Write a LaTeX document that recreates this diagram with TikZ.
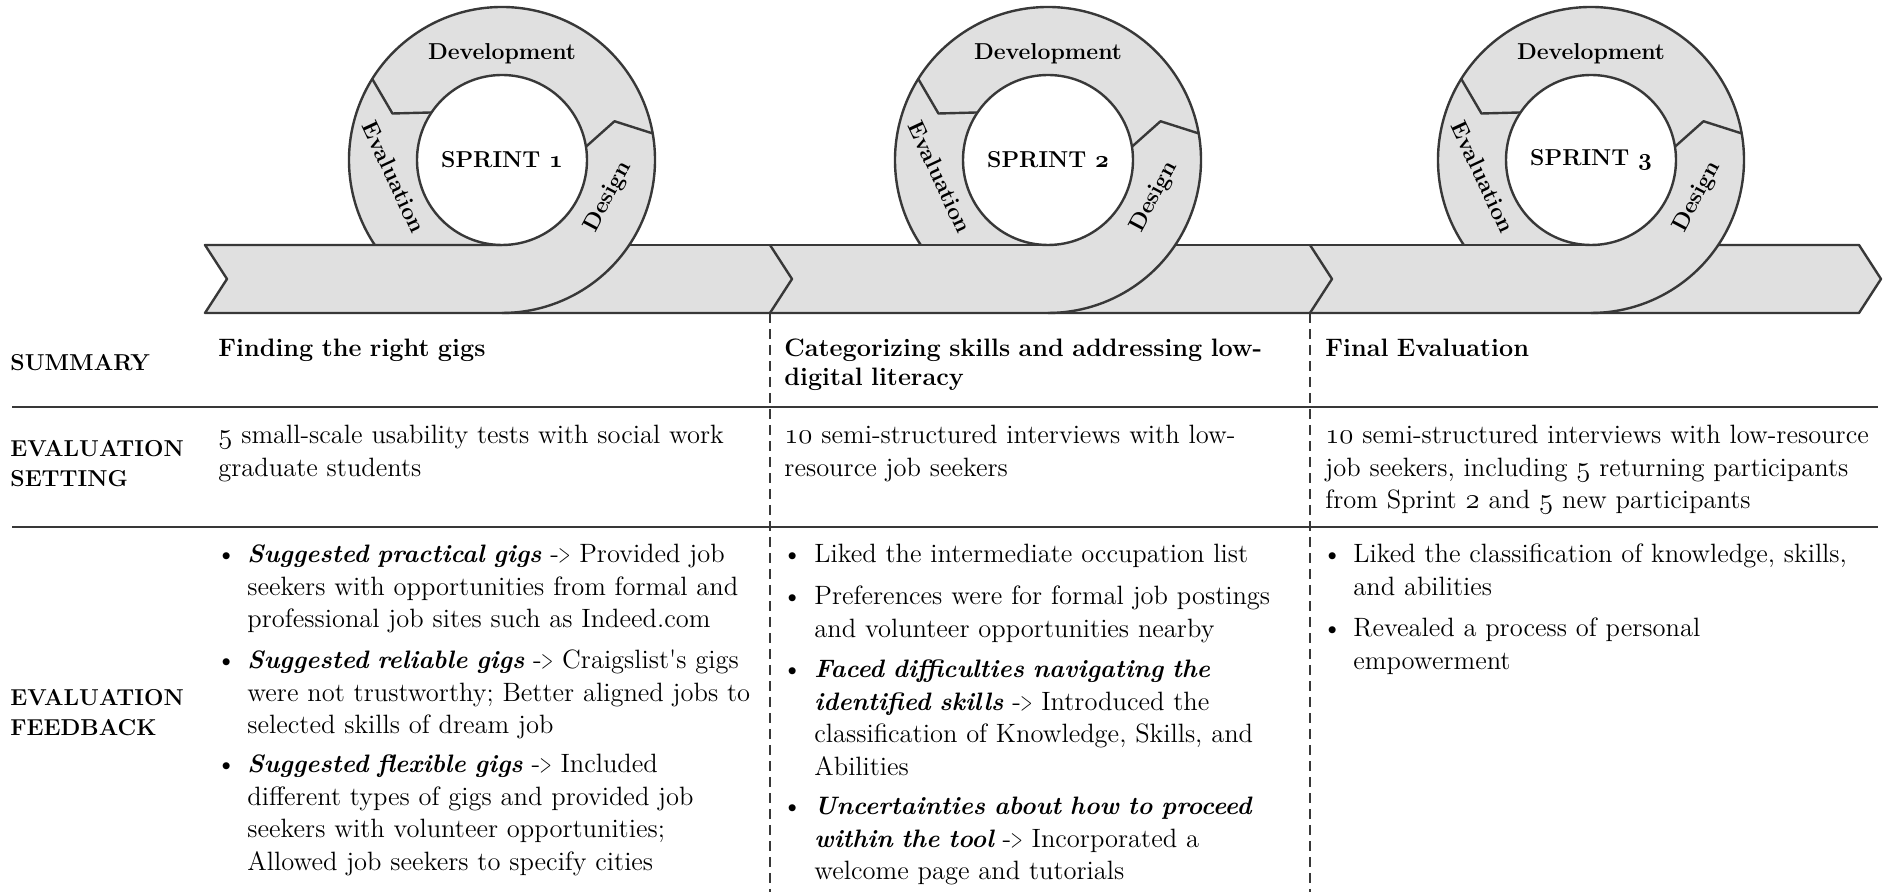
\documentclass[tikz,border=0pt]{standalone}
\usepackage{graphicx}
\usepackage{tikz}
\definecolor{ringfill}{HTML}{E0E0E0}
\definecolor{ringdraw}{HTML}{383838}
\newcommand{\oldnum}[1]{\(\mathnormal{#1}\)}
\newcommand{\bfit}[1]{{\fontsize{12.6}{16.2}\selectfont\bfseries\itshape #1}}
\newcommand{\resarrow}{\mbox{-\kern-0.3pt\scalebox{0.6}[1]{>}}}

\begin{document}
\begin{tikzpicture}[x=0.5pt,y=-0.5pt]
\tikzstyle{outline}=[draw=ringdraw,line width=1.2pt,line join=round]
\tikzstyle{phase}=[inner sep=0pt,font=\fontsize{11.5}{13}\selectfont\bfseries]
\tikzstyle{sprint}=[inner sep=0pt,font=\fontsize{11.5}{13}\selectfont\bfseries]
\tikzstyle{rowlabel}=[anchor=base west,inner sep=0pt,text width=100pt,align=left,font=\fontsize{11.5}{15}\selectfont\bfseries]
\tikzstyle{headtext}=[anchor=base west,inner sep=0pt,text width=330pt,align=left,font=\fontsize{12.6}{14.5}\selectfont\bfseries]
\tikzstyle{bodytext}=[anchor=base west,inner sep=0pt,text width=330pt,align=left,font=\fontsize{13.25}{16.2}\selectfont]
\tikzstyle{bulletdot}=[anchor=base west,inner sep=0pt,font=\fontsize{13}{16.2}\selectfont]
\useasboundingbox (0,0) rectangle (1892,892);

\fill[ringfill] (205,245) -- (1859,245) -- (1881,279) -- (1859,313) -- (205,313) -- (227,279) -- cycle;
\foreach \cx in {502,1048,1591}
  \fill[ringfill] (\cx,160) circle[radius=153];
\draw[outline] (502,245) -- (205,245) -- (227,279) -- (205,313) -- (1859,313) -- (1881,279) -- (1859,245) -- (1718,245);
\draw[outline] (629,245) -- (1048,245);
\draw[outline] (1175,245) -- (1591,245);
\draw[outline] (770,245) -- (792,279) -- (770,313);
\draw[outline] (1310,245) -- (1332,279) -- (1310,313);

\foreach \cx/\n in {502/1,1048/2,1591/3}{
\begin{scope}[shift={(\cx,160)}]
\draw[outline] (146.25:153) arc[start angle=146.25,end angle=450,radius=153];
\draw[outline,fill=white] (0,0) circle[radius=85];
\draw[outline] (212:153) -- (203:119) -- (214:85);
\draw[outline] (350:153) -- (341:119) -- (351:85);
\node[phase] (dev\n) at (0,-106) {Development};
\node[phase,rotate=-65] (eva\n) at (-108,17) {Evaluation};
\node[phase,rotate=62] (des\n) at (106,37) {Design};
\node[sprint] (spr\n) at (0,0) {SPRINT \mbox{\boldmath\oldnum{\n}}};
\end{scope}}

\draw[ringdraw,line width=0.7pt,dash pattern=on 5pt off 3pt] (770,313) -- (770,892);
\draw[ringdraw,line width=0.7pt,dash pattern=on 5pt off 3pt] (1310,313) -- (1310,892);
\draw[ringdraw,line width=1pt] (12,407) -- (1878,407);
\draw[ringdraw,line width=1pt] (12,527) -- (1878,527);

\node[rowlabel] (lsum) at (10,371) {SUMMARY};
\node[rowlabel] (lset) at (10,457) {EVALUATION\\SETTING};
\node[rowlabel] (lfeed) at (10,706) {EVALUATION\\FEEDBACK};

\node[headtext] (sum1) at (218,357) {Finding the right gigs};
\node[headtext] (sum2) at (784,357) {Categorizing skills and addressing low-\\digital literacy};
\node[headtext] (sum3) at (1325,357) {Final Evaluation};

\node[bodytext] (set1) at (218,444) {\oldnum{5} small-scale usability tests with social work\\graduate students};
\node[bodytext] (set2) at (784,444) {\oldnum{10} semi-structured interviews with low-\\resource job seekers};
\node[bodytext] (set3) at (1325,444) {\oldnum{10} semi-structured interviews with low-resource\\job seekers, including \oldnum{5} returning participants\\from Sprint \oldnum{2} and \oldnum{5} new participants};

\node[bulletdot] (d11) at (216,563) {\textbullet};
\node[bodytext] (f11) at (247,563) {\bfit{Suggested practical gigs} \resarrow{} Provided job\\seekers with opportunities from formal and\\professional job sites such as Indeed.com};
\node[bulletdot] (d12) at (216,669) {\textbullet};
\node[bodytext] (f12) at (247,669) {\bfit{Suggested reliable gigs} \resarrow{} Craigslist\textquotesingle s gigs\\were not trustworthy; Better aligned jobs to\\selected skills of dream job};
\node[bulletdot] (d13) at (216,773) {\textbullet};
\node[bodytext] (f13) at (247,773) {\bfit{Suggested flexible gigs} \resarrow{} Included\\different types of gigs and provided job\\seekers with volunteer opportunities;\\Allowed job seekers to specify cities};

\node[bulletdot] (d21) at (782,563) {\textbullet};
\node[bodytext] (f21) at (814,563) {Liked the intermediate occupation list};
\node[bulletdot] (d22) at (782,605) {\textbullet};
\node[bodytext] (f22) at (814,605) {Preferences were for formal job postings\\and volunteer opportunities nearby};
\node[bulletdot] (d23) at (782,678) {\textbullet};
\node[bodytext] (f23) at (814,678) {\bfit{Faced difficulties navigating the}\\\bfit{identified skills} \resarrow{} Introduced the\\classification of Knowledge, Skills, and\\Abilities};
\node[bulletdot] (d24) at (782,815) {\textbullet};
\node[bodytext] (f24) at (814,815) {\bfit{Uncertainties about how to proceed}\\\bfit{within the tool} \resarrow{} Incorporated a\\welcome page and tutorials};

\node[bulletdot] (d31) at (1322,563) {\textbullet};
\node[bodytext] (f31) at (1353,563) {Liked the classification of knowledge, skills,\\and abilities};
\node[bulletdot] (d32) at (1322,637) {\textbullet};
\node[bodytext] (f32) at (1353,637) {Revealed a process of personal\\empowerment};
\end{tikzpicture}
\end{document}
